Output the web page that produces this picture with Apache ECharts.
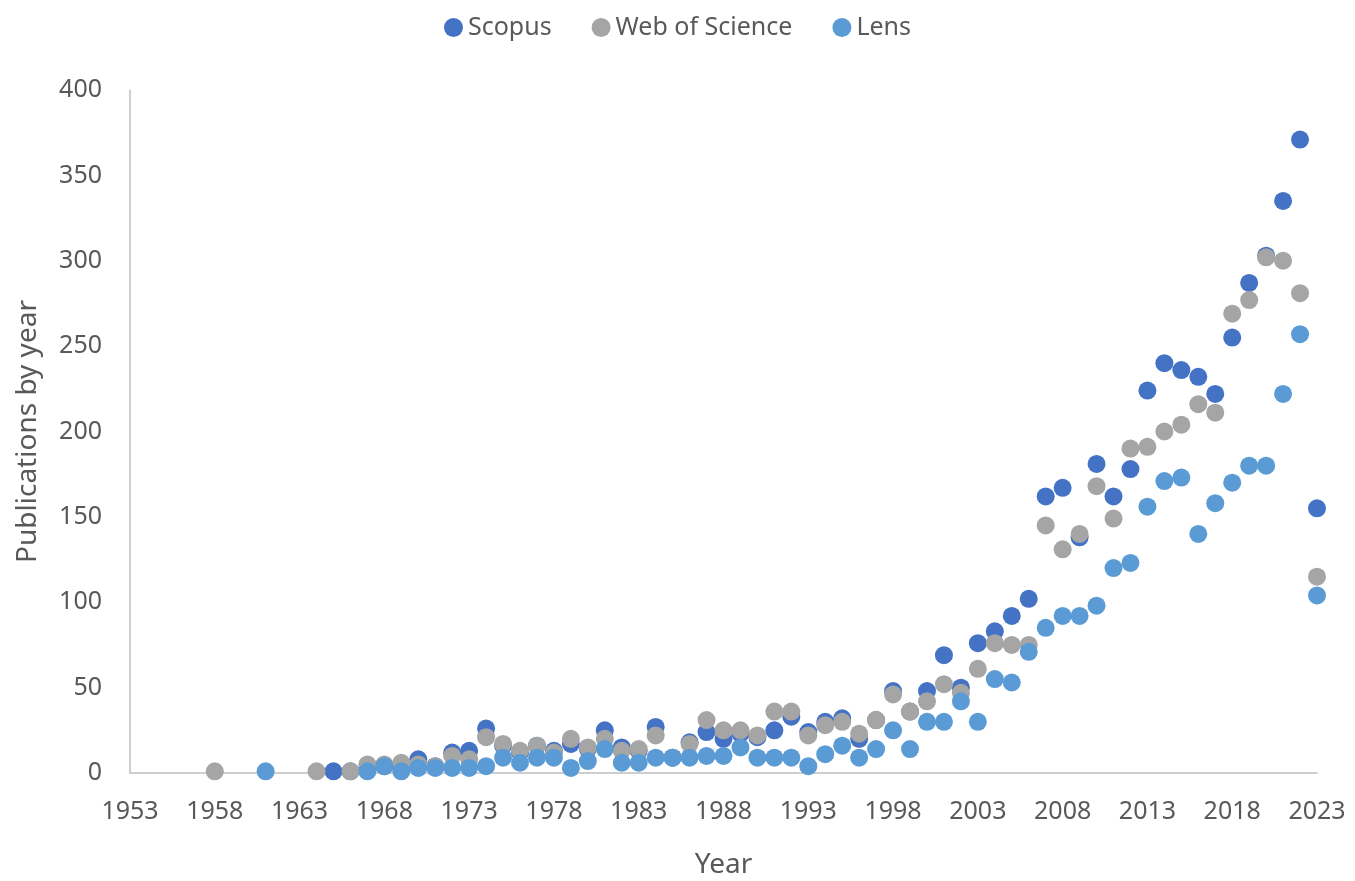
<!DOCTYPE html>
<html lang="en">
<head>
    <meta charset="UTF-8">
    <title>Publications by year</title>
    <script src="https://cdn.jsdelivr.net/npm/echarts@6/dist/echarts.min.js"></script>
    <style>
        html, body { margin: 0; padding: 0; background: #fff; }
    </style>
</head>
<body>
<div id="myChart" style="width: 1355px;height: 881px"></div>
<script>
    // years on the x axis (null = no point)
    var years = [1958, 1961, 1964, 1965, 1966, 1967, 1968, 1969, 1970, 1971, 1972, 1973, 1974, 1975, 1976, 1977, 1978, 1979,
        1980, 1981, 1982, 1983, 1984, 1985, 1986, 1987, 1988, 1989, 1990, 1991, 1992, 1993, 1994, 1995, 1996, 1997, 1998, 1999,
        2000, 2001, 2002, 2003, 2004, 2005, 2006, 2007, 2008, 2009, 2010, 2011, 2012, 2013, 2014, 2015, 2016, 2017, 2018, 2019,
        2020, 2021, 2022, 2023];
    var scopus = [null, null, null, 1, 1, 3, 4, 4, 8, 4, 12, 13, 26, 16, 12, 16, 13, 17,
        14, 25, 15, 13, 27, 9, 18, 24, 20, 23, 21, 25, 33, 24, 30, 32, 20, 31, 48, 36,
        48, 69, 50, 76, 83, 92, 102, 162, 167, 138, 181, 162, 178, 224, 240, 236, 232, 222, 255, 287,
        303, 335, 371, 155];
    var wos = [1, null, 1, null, 1, 5, 5, 6, 5, 4, 10, 8, 21, 17, 13, 16, 12, 20,
        15, 20, 13, 14, 22, 9, 17, 31, 25, 25, 22, 36, 36, 22, 28, 30, 23, 31, 46, 36,
        42, 52, 47, 61, 76, 75, 75, 145, 131, 140, 168, 149, 190, 191, 200, 204, 216, 211, 269, 277,
        302, 300, 281, 115];
    var lens = [null, 1, null, null, null, 1, 4, 1, 3, 3, 3, 3, 4, 9, 6, 9, 9, 3,
        7, 14, 6, 6, 9, 9, 9, 10, 10, 15, 9, 9, 9, 4, 11, 16, 9, 14, 25, 14,
        30, 30, 42, 30, 55, 53, 71, 85, 92, 92, 98, 120, 123, 156, 171, 173, 140, 158, 170, 180,
        180, 222, 257, 104];
    var yTicks = [0, 400, 50];

    function pairs(vals) {
        var out = [];
        for (var i = 0; i < years.length; i++) {
            if (vals[i] !== null) out.push([years[i], vals[i]]);
        }
        return out;
    }

    var font = 'Noto Sans';
    var myChart = echarts.init(document.getElementById('myChart'));
    myChart.setOption({
        animation: false,
        color: ['#4472C4', '#A5A5A5', '#5B9BD5'],
        textStyle: { fontFamily: font },
        //图例
        legend: {
            top: 10,
            left: 'center',
            icon: 'circle',
            itemWidth: 19,
            itemHeight: 19,
            itemGap: 40,
            textStyle: { fontSize: 25, color: '#595959', fontFamily: font },
            data: ['Scopus', 'Web of Science', 'Lens']
        },
        grid: { left: 130, right: 38, top: 90, bottom: 108, outerBoundsMode: 'none' },
        xAxis: {
            type: 'value',
            min: 1953,
            max: 2023,
            interval: 5,
            name: 'Year',
            nameLocation: 'middle',
            nameGap: 78,
            nameTextStyle: { fontSize: 28, color: '#595959', fontFamily: font },
            axisLine: { show: true, lineStyle: { color: '#BFBFBF', width: 1.5 } },
            axisTick: { show: false },
            splitLine: { show: false },
            axisLabel: {
                fontSize: 25, color: '#595959', margin: 26, fontFamily: font,
                formatter: function (v) { return String(v); }
            }
        },
        yAxis: {
            type: 'value',
            min: yTicks[0],
            max: yTicks[1],
            interval: yTicks[2],
            name: 'Publications by year',
            nameLocation: 'middle',
            nameGap: 88,
            nameTextStyle: { fontSize: 28, color: '#595959', fontFamily: font },
            axisLine: { show: true, lineStyle: { color: '#BFBFBF', width: 1.5 } },
            axisTick: { show: false },
            splitLine: { show: false },
            axisLabel: { fontSize: 25, color: '#595959', margin: 28, fontFamily: font }
        },
        series: [{
            name: 'Scopus',
            type: 'scatter',
            symbolSize: 18,
            itemStyle: { opacity: 1 },
            data: pairs(scopus)
        }, {
            name: 'Web of Science',
            type: 'scatter',
            symbolSize: 18,
            itemStyle: { opacity: 1 },
            data: pairs(wos)
        }, {
            name: 'Lens',
            type: 'scatter',
            symbolSize: 18,
            itemStyle: { opacity: 1 },
            data: pairs(lens)
        }]
    });
</script>
</body>
</html>
